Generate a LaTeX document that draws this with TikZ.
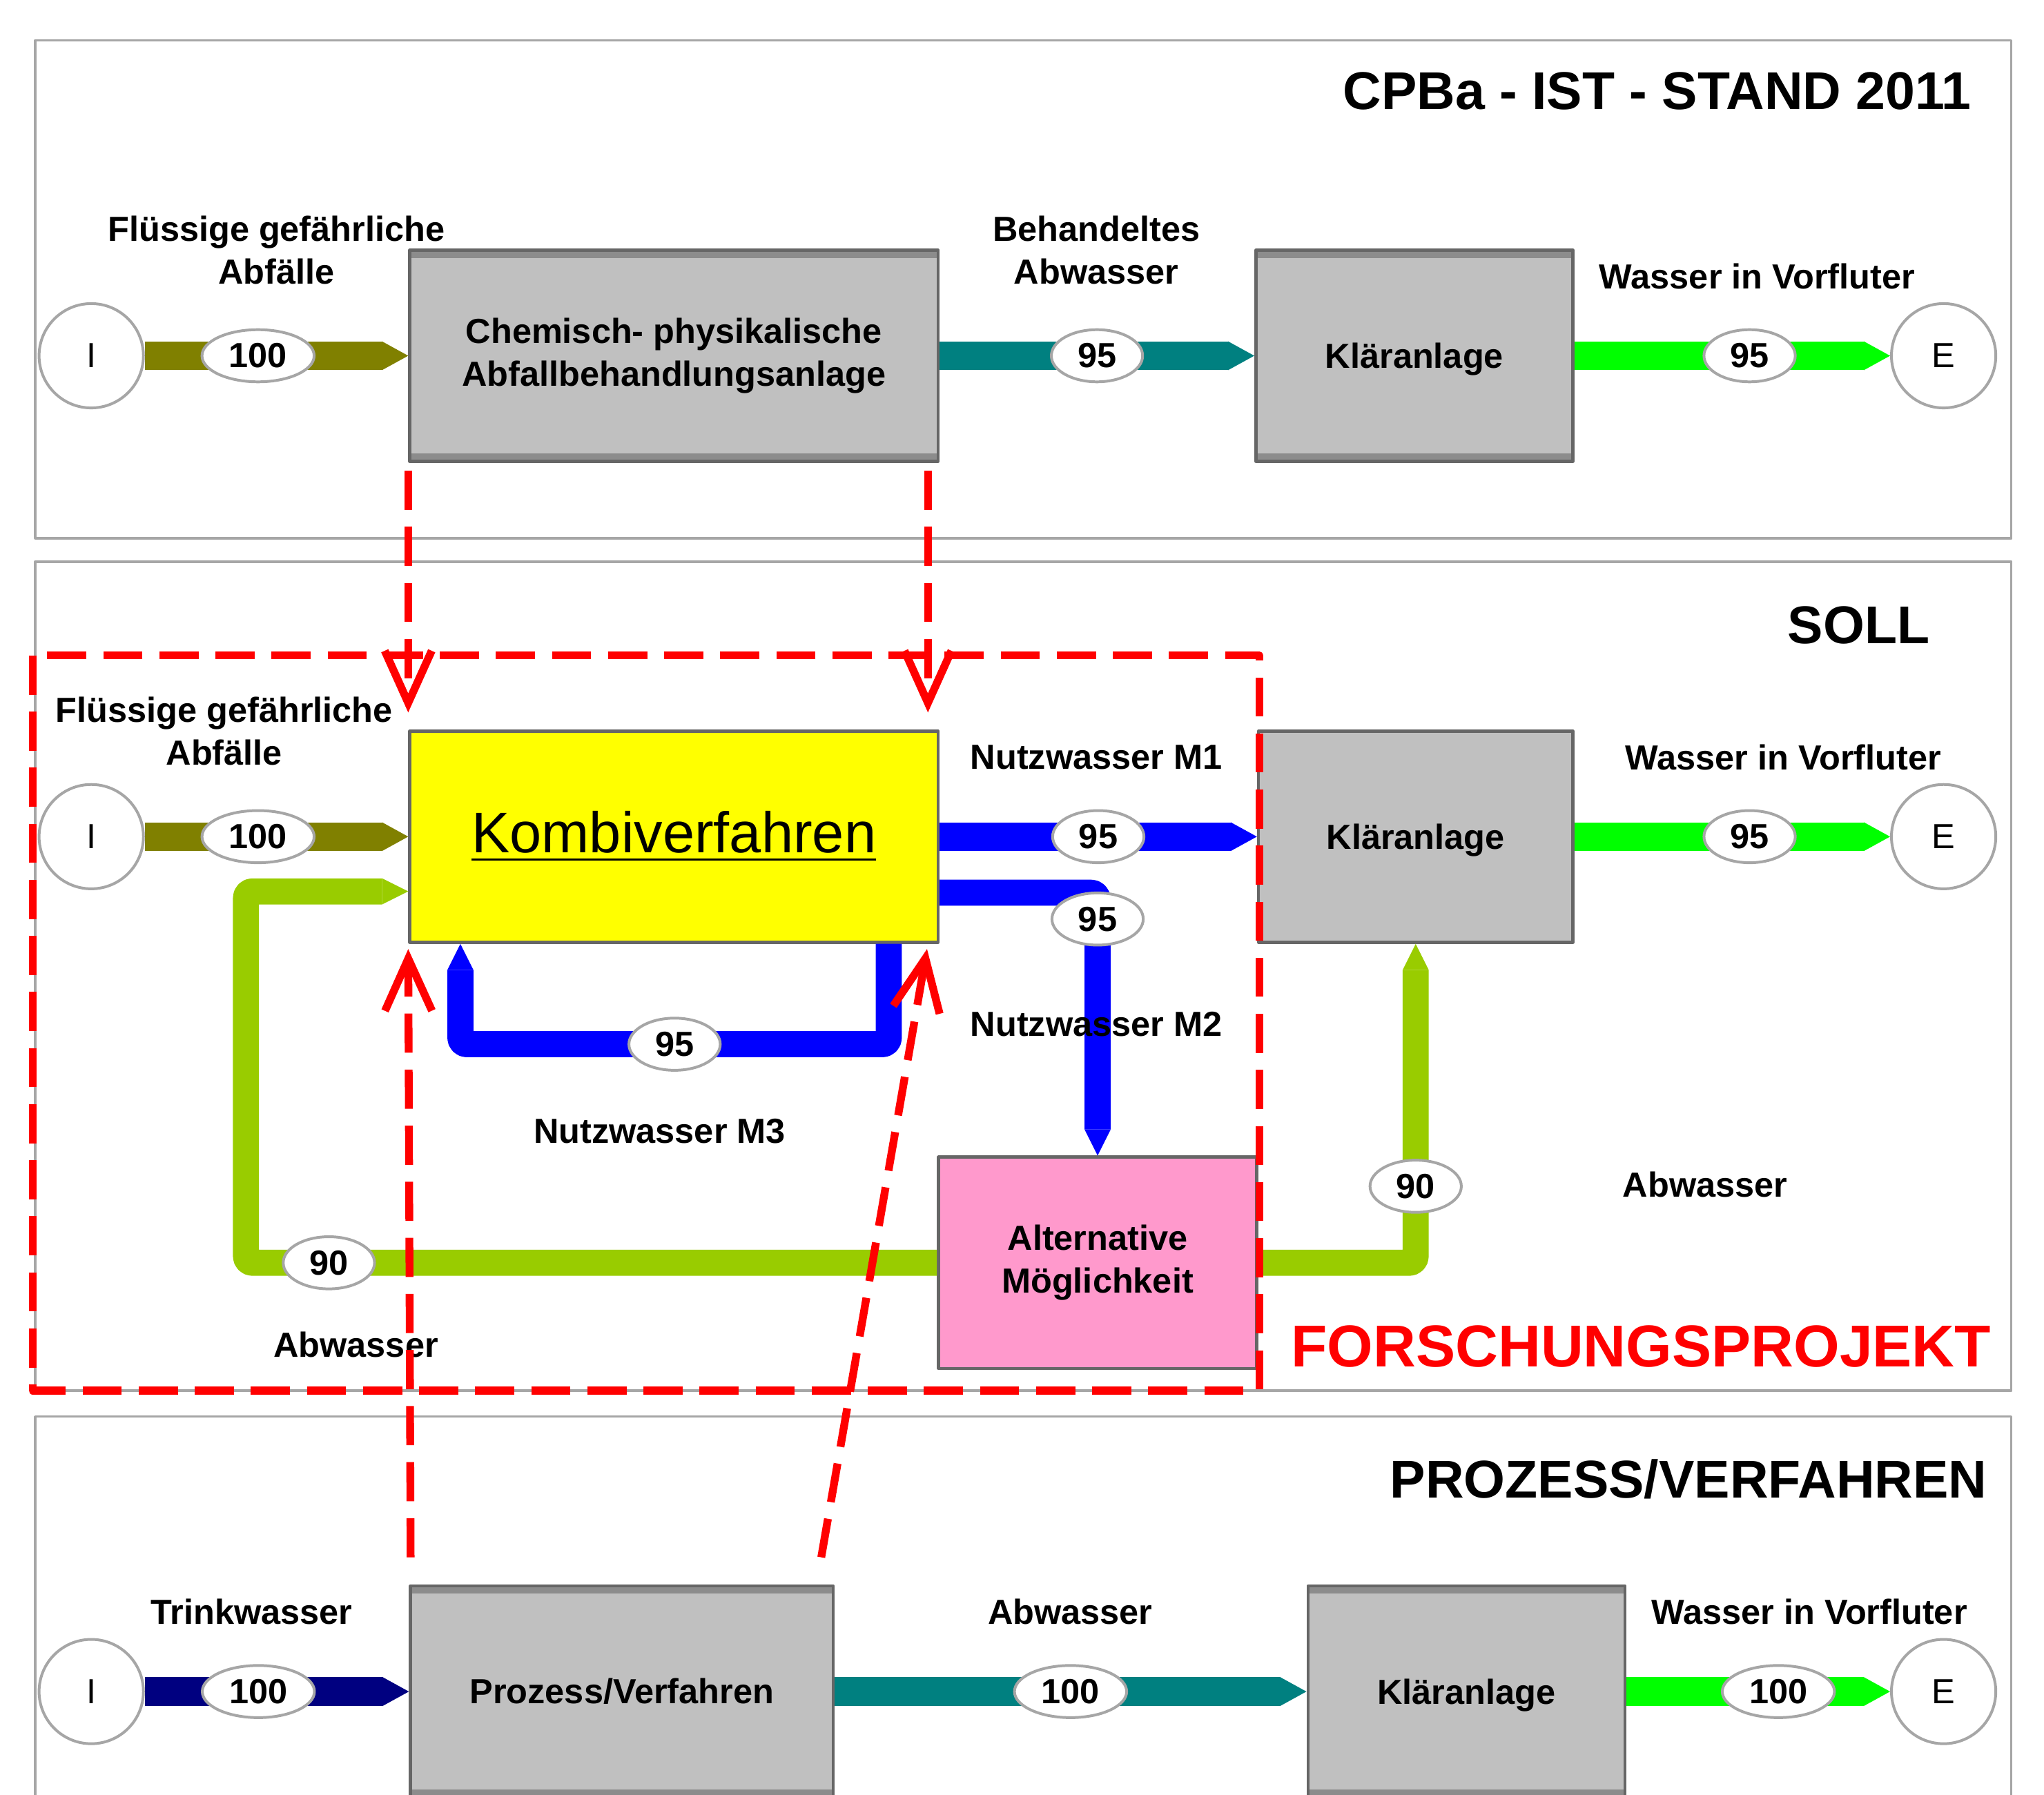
\documentclass[tikz,border=0pt]{standalone}
\usepackage{fontspec}
\setmainfont{Liberation Sans}
\usetikzlibrary{arrows.meta,shapes.geometric,calc}

\definecolor{cOlive}{HTML}{808000}
\definecolor{cTeal}{HTML}{008080}
\definecolor{cLime}{HTML}{00FF00}
\definecolor{cBlue}{HTML}{0000FF}
\definecolor{cNavy}{HTML}{000080}
\definecolor{cAbw}{HTML}{99CC00}
\definecolor{cBox}{HTML}{C0C0C0}
\definecolor{cEdge}{HTML}{8C8C8C}
\definecolor{cPink}{HTML}{FF99CC}
\definecolor{cYel}{HTML}{FFFF00}
\definecolor{cRed}{HTML}{FF0000}

\newcommand\lblfont{\fontsize{7.6}{9.4}\selectfont\bfseries}

\tikzset{
  panel/.style={draw=gray!70, line width=0.5pt},
  box/.style={draw=gray!80!black, line width=0.7pt, fill=cBox, minimum height=1.62cm, align=center, inner sep=0pt, font=\lblfont},
  box3d/.style={box, path picture={
      \fill[cEdge] (path picture bounding box.north west) rectangle ([yshift=-0.06cm]path picture bounding box.north east);
      \fill[cEdge] (path picture bounding box.south west) rectangle ([yshift=0.06cm]path picture bounding box.south east);}},
  port/.style={circle, draw=gray!70, line width=0.6pt, fill=white, minimum size=0.8cm, inner sep=0pt, font=\fontsize{7.6}{9}\selectfont},
  val/.style={ellipse, draw=gray!70, line width=0.6pt, fill=white, text=black, minimum width=0.7cm, minimum height=0.4cm, inner sep=0pt, font=\lblfont},
  valw/.style={val, minimum width=0.86cm},
  txt/.style={align=center, inner sep=0pt, font=\lblfont},
  ttl/.style={anchor=east, inner sep=0pt, font=\fontsize{11.6}{14}\selectfont\bfseries},
  flow/.style={line width=0.22cm, -{Triangle[length=0.2cm,width=0.22cm,line width=0pt]}},
  pipe/.style={line width=0.2cm, rounded corners=0.05cm, -{Triangle[length=0.2cm,width=0.2cm,line width=0pt]}},
  proj/.style={cRed, line width=0.06cm, dash pattern=on 0.3cm off 0.13cm, -{Straight Barb[length=0.4cm,width=0.36cm]}},
}

\begin{document}
\begin{tikzpicture}[x=0.01cm, y=-0.01cm, line join=round]
  \useasboundingbox (0,0) rectangle (1568,1377);
  % panels
  \draw[panel] (27,31) rectangle (1543,413);
  \draw[panel] (27,431) rectangle (1543,1067);
  \draw[panel] (27,1390) -- (27,1087) -- (1543,1087) -- (1543,1390);

  % IST
  \node[ttl] (ttlIst) at (1513,70) {CPBa - IST - STAND 2011};
  \node[port] (I1) at (70,273) {I};
  \node[box3d, minimum width=4.05cm] (chem) at (517,273) {Chemisch- physikalische\\Abfallbehandlungsanlage};
  \node[box3d, minimum width=2.43cm, text depth=0pt] (klaer1) at (1085,273) {Kläranlage};
  \node[port] (E1) at (1491,273) {E};
  \node[txt] (lblFl1) at (212,192) {Flüssige gefährliche\\Abfälle};
  \node[txt] (lblBeh) at (841,192) {Behandeltes\\Abwasser};
  \node[txt] (lblVf1) at (1348,212) {Wasser in Vorfluter};
  \draw[flow, cOlive] (I1) -- node[valw, pos=0.43] (v11) {100} (chem);
  \draw[flow, cTeal] (chem) -- node[val, pos=0.5] (v12) {95} (klaer1);
  \draw[flow, cLime] (klaer1) -- node[val, pos=0.555] (v13) {95} (E1);

  % SOLL
  \node[ttl] (ttlSoll) at (1481,480) {SOLL};
  \node[port] (I2) at (70,642) {I};
  \node[box, fill=cYel, minimum width=4.05cm, font=\fontsize{12.5}{14}\selectfont] (kombi) at (517,642) {\underline{Kombiverfahren}};
  \node[box, minimum width=2.41cm, text depth=0pt] (klaer2) at (1086,642) {Kläranlage};
  \node[port] (E2) at (1491,642) {E};
  \node[box, fill=cPink, minimum width=2.44cm] (alt) at (842,969) {Alternative\\Möglichkeit};
  \draw[flow, cOlive] (I2) -- node[valw, pos=0.43] (v21) {100} (kombi);
  \draw[flow, cBlue] (kombi) -- node[val, pos=0.5] (v22) {95} (klaer2);
  \draw[flow, cLime] (klaer2) -- node[val, pos=0.555] (v23) {95} (E2);
  % Nutzwasser M2 und M3
  \draw[pipe, cBlue] ([yshift=-0.43cm]kombi.east) -| node[val, pos=0.55] (v24) {95} (alt.north);
  \draw[pipe, cBlue] ([xshift=-0.39cm]kombi.south east) -- ++(0,77) -| node[val, pos=0.25] (v25) {95} ([xshift=0.4cm]kombi.south west);
  % Abwasser
  \draw[pipe, cAbw] (alt.west) -- node[val, pos=0.88] (v26) {90} ++(-530,0) |- ([yshift=-0.42cm]kombi.west);
  \draw[pipe, cAbw] (alt.east) -| node[val, pos=0.62] (v27) {90} (klaer2.south);
  \node[txt] (lblFl2) at (172,561) {Flüssige gefährliche\\Abfälle};
  \node[txt] (lblM1) at (841,581) {Nutzwasser M1};
  \node[txt] (lblM2) at (841,786) {Nutzwasser M2};
  \node[txt] (lblM3) at (506,868) {Nutzwasser M3};
  \node[txt] (lblVf2) at (1368,581) {Wasser in Vorfluter};
  \node[txt] (lblAbw1) at (273,1032) {Abwasser};
  \node[txt] (lblAbw2) at (1308,909) {Abwasser};
  \node[ttl, cRed, font=\fontsize{12.9}{15}\selectfont\bfseries] (forsch) at (1528,1033) {FORSCHUNGSPROJEKT};

  % PROZESS/VERFAHREN
  \node[ttl] (ttlProz) at (1525,1135) {PROZESS/VERFAHREN};
  \node[port] (I3) at (70,1298) {I};
  \node[box3d, minimum width=3.24cm] (proz) at (477,1298) {Prozess/Verfahren};
  \node[box3d, minimum width=2.43cm, text depth=0pt] (klaer3) at (1125,1298) {Kläranlage};
  \node[port] (E3) at (1491,1298) {E};
  \node[txt] (lblTw) at (193,1237) {Trinkwasser};
  \node[txt] (lblAbw3) at (821,1237) {Abwasser};
  \node[txt] (lblVf3) at (1388,1237) {Wasser in Vorfluter};
  \draw[flow, cNavy] (I3) -- node[valw, pos=0.43] (v31) {100} (proz);
  \draw[flow, cTeal] (proz) -- node[valw, pos=0.5] (v32) {100} (klaer3);
  \draw[flow, cLime] (klaer3) -- node[valw, pos=0.576] (v33) {100} (E3);

  % Forschungsprojekt
  \draw[cRed, line width=0.06cm, dash pattern=on 0.3cm off 0.13cm] (25,503) rectangle (966,1067);
  \coordinate (pjL) at (315,1195);
  \coordinate (pjR) at (630,1195);
  \draw[proj, shorten <=0.06cm, shorten >=0.13cm] (chem.south west) -- (kombi.north west);
  \draw[proj, shorten <=0.06cm, shorten >=0.13cm] ([xshift=-0.09cm]chem.south east) -- ([xshift=-0.09cm]kombi.north east);
  \draw[proj, shorten >=0.04cm] (pjL) -- (kombi.south west);
  \draw[proj, shorten >=0.04cm] (pjR) -- ([xshift=-0.09cm]kombi.south east);
\end{tikzpicture}
\end{document}
